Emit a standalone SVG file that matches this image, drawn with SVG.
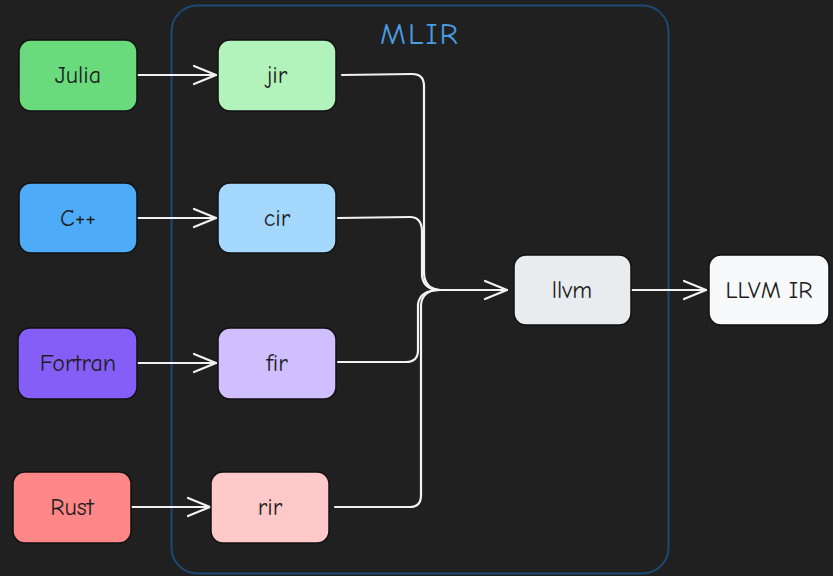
<svg xmlns="http://www.w3.org/2000/svg" width="833" height="576" viewBox="0 0 833 576">
  <style>
    .node rect { stroke: #111; stroke-width: 1.5; }
    .node text { font-family: "Comic Neue", "Noto Sans", "Liberation Sans", sans-serif; font-size: 24px; font-weight: 500; fill: #1e1e1e; text-anchor: middle; dominant-baseline: central; }
    .wire { fill: none; stroke: #f2f2f2; stroke-width: 2.2; stroke-linecap: round; stroke-linejoin: round; }
  </style>
  <defs>
    <marker id="head" viewBox="0 0 26 26" refX="24" refY="13" markerWidth="26" markerHeight="26" markerUnits="userSpaceOnUse" orient="auto">
      <path d="M2 4 L24 13 L2 22" fill="none" stroke="#f2f2f2" stroke-width="2.2" stroke-linecap="round" stroke-linejoin="round"/>
    </marker>
  </defs>

  <rect width="833" height="576" fill="#202020"/>

  <!-- MLIR container -->
  <g id="mlir">
    <rect x="171.5" y="5.5" width="497" height="568" rx="26" fill="none" stroke="#1c4a73" stroke-width="2"/>
    <text x="420" y="34" font-family="Comic Neue, Noto Sans, Liberation Sans, sans-serif" font-size="31" fill="#4a9be0" text-anchor="middle" dominant-baseline="central" letter-spacing="2">MLIR</text>
  </g>

  <!-- connectors -->
  <g id="connectors">
    <path class="wire" marker-end="url(#head)" d="M138 75 L216 75"/>
    <path class="wire" marker-end="url(#head)" d="M138 218 L216 218"/>
    <path class="wire" marker-end="url(#head)" d="M138 363 L216 363"/>
    <path class="wire" marker-end="url(#head)" d="M132 507 L210 507"/>
    <path class="wire" marker-end="url(#head)" d="M342 75 L412 74 Q424 74 424 86 L424 272 Q424 290 442 290 L507 290"/>
    <path class="wire" d="M338 218 L410 217 Q422 217 422 232 L422 276 Q424 290 440 290"/>
    <path class="wire" d="M338 362 L406 362 Q418 362 418 350 L418 304 Q420 290 440 290"/>
    <path class="wire" d="M335 507 L410 507 Q421 507 421 495 L421 305 Q422 290 440 290"/>
    <path class="wire" marker-end="url(#head)" d="M632 290 L706 290"/>
  </g>

  <g id="julia" class="node"><rect x="19" y="40" width="118" height="71" rx="12" fill="#69db7c"/><text x="78" y="75">Julia</text></g>
  <g id="jir" class="node"><rect x="218" y="40" width="118" height="71" rx="12" fill="#b2f2bb"/><text x="277" y="75">jir</text></g>
  <g id="cpp" class="node"><rect x="19" y="183" width="118" height="70" rx="12" fill="#4dabf7"/><text x="78" y="218">C++</text></g>
  <g id="cir" class="node"><rect x="218" y="183" width="118" height="70" rx="12" fill="#a5d8ff"/><text x="277" y="218">cir</text></g>
  <g id="fortran" class="node"><rect x="18" y="328" width="119" height="71" rx="12" fill="#845ef7"/><text x="78" y="363">Fortran</text></g>
  <g id="fir" class="node"><rect x="218" y="328" width="118" height="71" rx="12" fill="#d0bfff"/><text x="277" y="363">fir</text></g>
  <g id="rust" class="node"><rect x="13" y="472" width="118" height="71" rx="12" fill="#ff8787"/><text x="72" y="507">Rust</text></g>
  <g id="rir" class="node"><rect x="211" y="472" width="118" height="71" rx="12" fill="#ffc9c9"/><text x="270" y="507">rir</text></g>
  <g id="llvm" class="node"><rect x="514" y="255" width="117" height="70" rx="12" fill="#e9ecef"/><text x="572" y="290">llvm</text></g>
  <g id="llvm-ir" class="node"><rect x="709" y="255" width="120" height="70" rx="12" fill="#f8f9fa"/><text x="769" y="290">LLVM IR</text></g>
</svg>
